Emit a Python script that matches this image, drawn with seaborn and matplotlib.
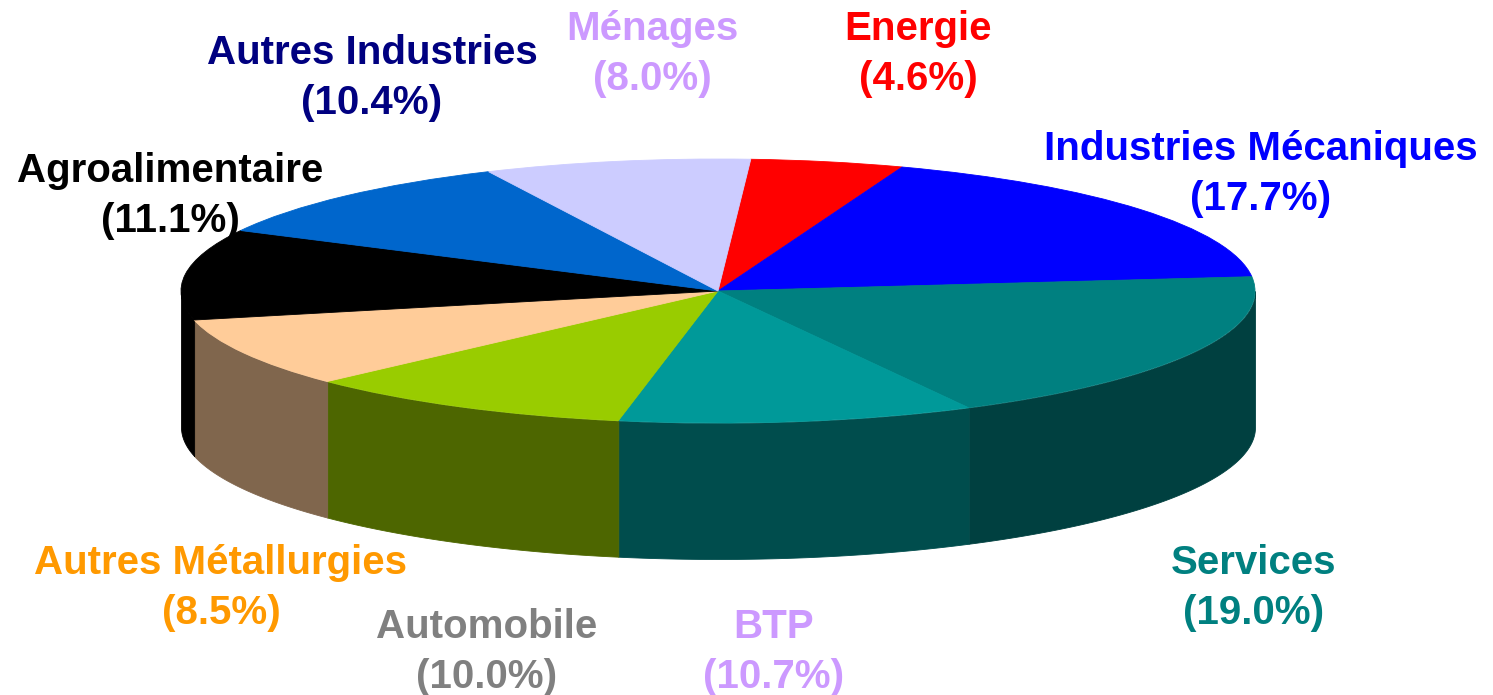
import numpy as np
import matplotlib.pyplot as plt
import matplotlib.colors as mcolors
import seaborn as sns

labels = ["Energie", "Industries Mécaniques", "Services", "BTP", "Automobile",
          "Autres Métallurgies", "Agroalimentaire", "Autres Industries", "Ménages"]
values = [4.6, 17.7, 19.0, 10.7, 10.0, 8.5, 11.1, 10.4, 8.0]
slice_colors = ["#FF0000", "#0000FF", "#008080", "#009999", "#99CC00",
                "#FFCC99", "#000000", "#0066CC", "#CCCCFF"]
label_colors = ["#FF0000", "#0000FF", "#008080", "#CC99FF", "#808080",
                "#FF9900", "#000000", "#000080", "#CC99FF"]

W, H = 1493, 695
CX, CY, RX, RY, DEPTH = 718, 291, 537, 132, 136
START = 86.5

# label centres in pixels from the top left
label_pos = [(918, 54), (1261, 174), (1254, 588), (774, 652), (487, 652),
             (221, 588), (170, 196), (372, 78), (652, 54)]

sns.set_theme(style="white")
plt.rcParams['font.family'] = ['Liberation Sans', 'DejaVu Sans']

fig = plt.figure(figsize=(W / 100, H / 100), dpi=100)
ax = fig.add_axes([0, 0, 1, 1])

wedges, _ = ax.pie(values, colors=slice_colors, startangle=START, counterclock=False,
                   radius=1, wedgeprops={"linewidth": 0.6, "zorder": 3})
for w, c in zip(wedges, slice_colors):
    w.set_edgecolor(c)

# the pie is squashed by the limits, one data unit is RX across and RY down
ax.set_aspect('auto')
ax.set_xlim(-CX / RX, (W - CX) / RX)
ax.set_ylim(-(H - CY) / RY, CY / RY)
ax.axis('off')

# rim of the disc, only the front half shows
angle = START
for v, c in zip(values, slice_colors):
    end = angle - v * 3.6
    t = np.radians(np.linspace(angle, end, 120))
    t = t[np.sin(t) <= 0]
    if len(t) > 1:
        dark = tuple(0.5 * x for x in mcolors.to_rgb(c))
        ax.fill_between(np.cos(t), np.sin(t), np.sin(t) - DEPTH / RY,
                        color=dark, lw=0.6, zorder=2)
    angle = end

for name, v, c, (px, py) in zip(labels, values, label_colors, label_pos):
    fig.text(px / W, 1 - py / H, f"{name}\n({v:.1f}%)", color=c, ha='center', va='center',
             fontsize=29, fontweight='bold', linespacing=1.38)

fig.savefig("out.png", dpi=100)
